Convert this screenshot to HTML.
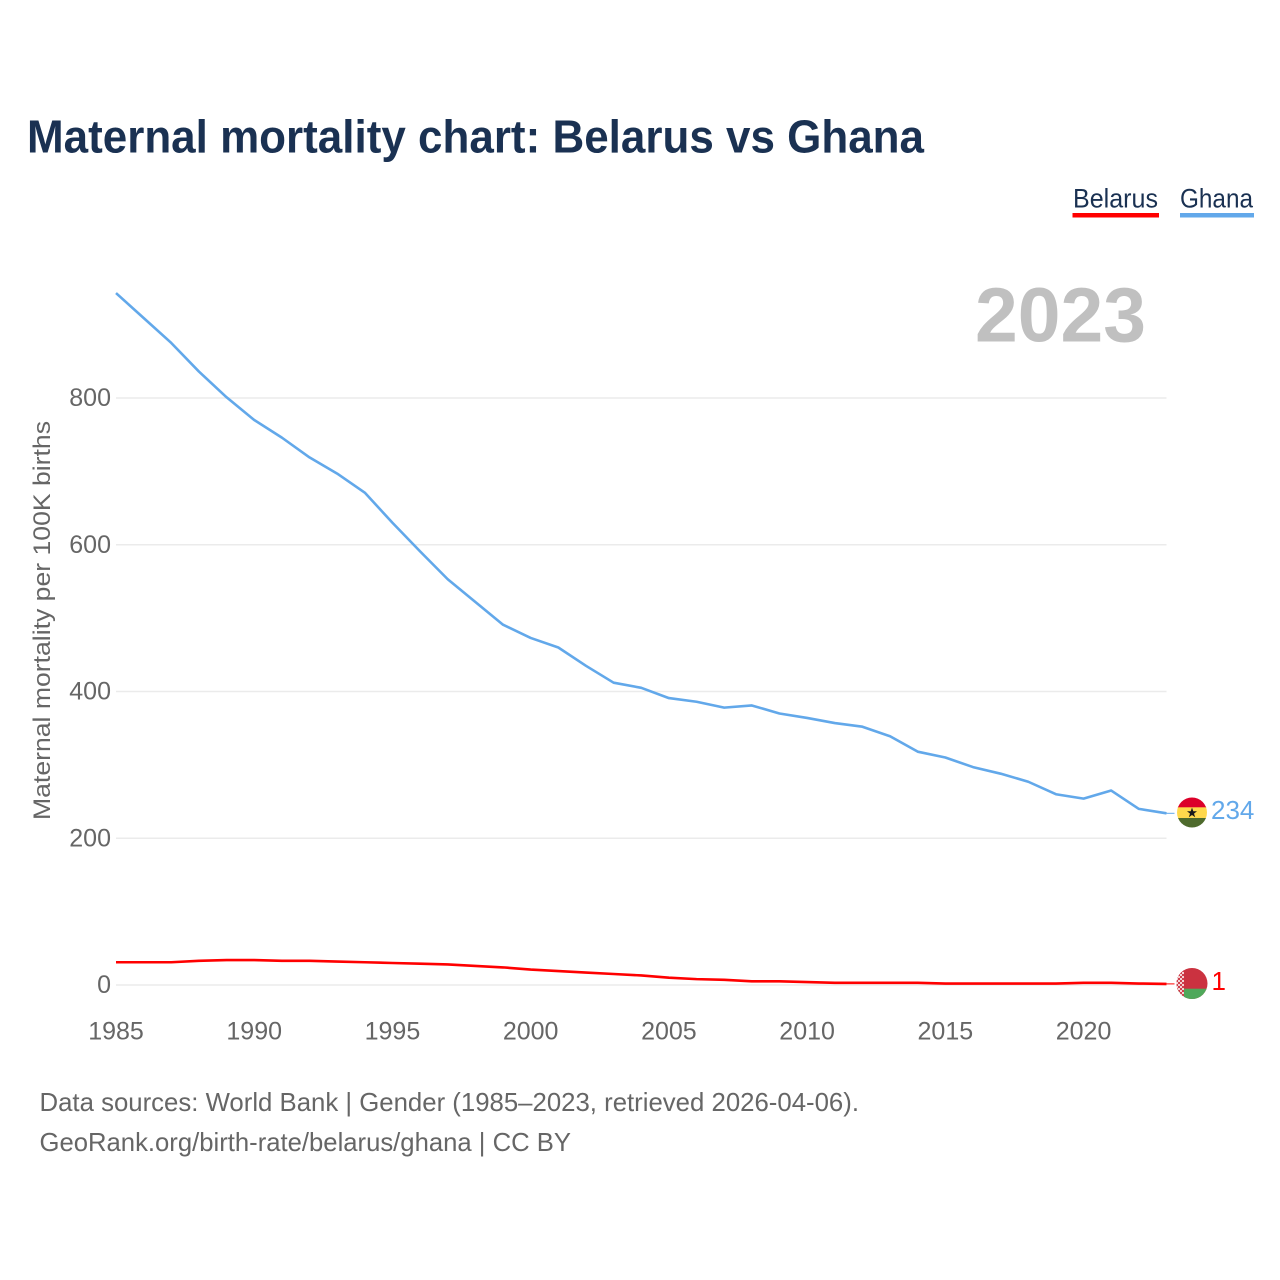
<!DOCTYPE html>
<html lang="en">
<head>
<meta charset="utf-8">
<title>Maternal mortality chart: Belarus vs Ghana</title>
<style>
html,body{margin:0;padding:0;background:#fff;}
svg{display:block;font-family:"Liberation Sans",sans-serif;}
</style>
</head>
<body>
<svg id="chart" width="1280" height="1280" viewBox="0 0 1280 1280" xmlns="http://www.w3.org/2000/svg">
  <defs>
    <clipPath id="clip-ghana"><circle cx="1192" cy="812.5" r="15"/></clipPath>
    <clipPath id="clip-belarus"><circle cx="1192" cy="983.5" r="15.500"/></clipPath>
    <pattern id="belarus-ornament" width="4" height="4" patternUnits="userSpaceOnUse">
      <rect width="4" height="4" fill="#f3d3d5"/>
      <rect width="2" height="2" fill="#cf3f4c"/>
      <rect x="2" y="2" width="2" height="2" fill="#cf3f4c"/>
    </pattern>
  </defs>
  <rect width="1280" height="1280" fill="#fff"/>

  <text x="27" y="152.500" font-size="46" font-weight="700" fill="#1a3152" textLength="897" lengthAdjust="spacingAndGlyphs">Maternal mortality chart: Belarus vs Ghana</text>

  <g>
    <g>
      <text x="1073" y="207.500" font-size="26.500" fill="#1a3152" textLength="85" lengthAdjust="spacingAndGlyphs">Belarus</text>
      <rect x="1072.500" y="213" width="86.500" height="4.500" fill="#ff0000"/>
    </g>
    <g>
      <text x="1180" y="207.500" font-size="26.500" fill="#1a3152" textLength="73" lengthAdjust="spacingAndGlyphs">Ghana</text>
      <rect x="1180" y="213" width="74" height="4.500" fill="#62a8ea"/>
    </g>
  </g>

  <text x="975" y="341.500" font-size="77" font-weight="700" fill="#c0c0c0" textLength="171" lengthAdjust="spacingAndGlyphs">2023</text>

  <g id="grid"></g>
  <g id="y-ticks"></g>
  <g id="x-ticks"></g>

  <text transform="translate(50 820) rotate(-90)" x="0" y="0" font-size="24.500" fill="#666666" textLength="399" lengthAdjust="spacingAndGlyphs">Maternal mortality per 100K births</text>

  <g id="series"></g>

  <g clip-path="url(#clip-ghana)">
    <rect x="1177" y="797" width="30" height="11" fill="#dc002a"/>
    <rect x="1177" y="807.300" width="30" height="11" fill="#ffd84c"/>
    <rect x="1177" y="818" width="30" height="10" fill="#4e6a2c"/>
    <polygon points="1192,807.600 1193.300,811.300 1197,811.300 1194,813.600 1195.200,817.300 1192,815 1188.800,817.300 1190,813.600 1187,811.300 1190.700,811.300" fill="#1a1a1a"/>
  </g>
  <g clip-path="url(#clip-belarus)">
    <rect x="1176" y="968" width="32" height="32" fill="#cb3240"/>
    <rect x="1176" y="988.700" width="32" height="11" fill="#4fa85a"/>
    <rect x="1176" y="968" width="8" height="32" fill="url(#belarus-ornament)"/>
  </g>

  <text id="value-ghana" x="1211" y="819" font-size="26" fill="#62a8ea"></text>
  <text id="value-belarus" x="1211.500" y="990" font-size="26" fill="#ff0000"></text>

  <g>
    <text x="39.500" y="1111" font-size="26" fill="#666666" textLength="819.500" lengthAdjust="spacingAndGlyphs">Data sources: World Bank | Gender (1985–2023, retrieved 2026-04-06).</text>
    <text x="39.500" y="1151" font-size="26" fill="#666666" textLength="531.500" lengthAdjust="spacingAndGlyphs">GeoRank.org/birth-rate/belarus/ghana | CC BY</text>
  </g>
</svg>
<script>
const years = [1985,1986,1987,1988,1989,1990,1991,1992,1993,1994,1995,1996,1997,1998,1999,2000,2001,2002,2003,2004,2005,2006,2007,2008,2009,2010,2011,2012,2013,2014,2015,2016,2017,2018,2019,2020,2021,2022,2023];
const ghanaValues = [943,909,875,836,801,770,746,719,697,671,630,591,553,522,491,473,460,435,412,405,391,386,378,381,370,364,357,352,339,318,310,297,288,277,260,254,265,240,234];
const belarusValues = [31,31,31,33,34,34,33,33,32,31,30,29,28,26,24,21,19,17,15,13,10,8,7,5,5,4,3,3,3,3,2,2,2,2,2,3,3,2,1.5];
const yTickValues = [0,200,400,600,800];
const xTickValues = [1985,1990,1995,2000,2005,2010,2015,2020];
const ghanaLabel = "234";
const belarusLabel = "1";

const NS = 'http://www.w3.org/2000/svg';
function xScale(year) { return 116 + (year - 1985) * (1166.500 - 116) / (2023 - 1985); }
function yScale(value) { return 985 - value * (985 - 398) / 800; }

const grid = document.getElementById('grid');
const yTicksGroup = document.getElementById('y-ticks');
yTickValues.forEach(function (v) {
  const line = document.createElementNS(NS, 'line');
  
  
  line.setAttribute('x1', xScale(1985));
  line.setAttribute('x2', xScale(2023));
  line.setAttribute('y1', yScale(v));
  line.setAttribute('y2', yScale(v));
  line.setAttribute('stroke', '#ebebeb');
  line.setAttribute('stroke-width', '1.5');
  grid.appendChild(line);

  const label = document.createElementNS(NS, 'text');
  
  
  label.setAttribute('x', 111);
  label.setAttribute('y', yScale(v) + 8);
  label.setAttribute('text-anchor', 'end');
  label.setAttribute('font-size', '25');
  label.setAttribute('fill', '#666666');
  label.textContent = v;
  yTicksGroup.appendChild(label);
});

const xTicksGroup = document.getElementById('x-ticks');
xTickValues.forEach(function (y) {
  const label = document.createElementNS(NS, 'text');
  
  
  label.setAttribute('x', xScale(y));
  label.setAttribute('y', 1039.500);
  label.setAttribute('text-anchor', 'middle');
  label.setAttribute('font-size', '25');
  label.setAttribute('fill', '#666666');
  label.textContent = y;
  xTicksGroup.appendChild(label);
});

function linePoints(values) {
  return values.map(function (v, i) {
    return xScale(years[i]).toFixed(2) + ',' + yScale(v).toFixed(2);
  }).join(' ');
}

const seriesGroup = document.getElementById('series');

const ghanaLine = document.createElementNS(NS, 'polyline');


ghanaLine.setAttribute('points', linePoints(ghanaValues));
ghanaLine.setAttribute('fill', 'none');
ghanaLine.setAttribute('stroke', '#62a8ea');
ghanaLine.setAttribute('stroke-width', '2.600');
ghanaLine.setAttribute('stroke-linejoin', 'round');
seriesGroup.appendChild(ghanaLine);

const belarusLine = document.createElementNS(NS, 'polyline');


belarusLine.setAttribute('points', linePoints(belarusValues));
belarusLine.setAttribute('fill', 'none');
belarusLine.setAttribute('stroke', '#ff0000');
belarusLine.setAttribute('stroke-width', '2.600');
belarusLine.setAttribute('stroke-linejoin', 'round');
seriesGroup.appendChild(belarusLine);

const ghanaLeader = document.createElementNS(NS, 'line');


ghanaLeader.setAttribute('x1', xScale(2023));
ghanaLeader.setAttribute('x2', xScale(2023) + 8);
ghanaLeader.setAttribute('y1', yScale(ghanaValues[ghanaValues.length - 1]));
ghanaLeader.setAttribute('y2', yScale(ghanaValues[ghanaValues.length - 1]));
ghanaLeader.setAttribute('stroke', '#62a8ea');
ghanaLeader.setAttribute('stroke-width', '1');
seriesGroup.appendChild(ghanaLeader);

const belarusLeader = document.createElementNS(NS, 'line');


belarusLeader.setAttribute('x1', xScale(2023));
belarusLeader.setAttribute('x2', xScale(2023) + 8);
belarusLeader.setAttribute('y1', yScale(belarusValues[belarusValues.length - 1]));
belarusLeader.setAttribute('y2', yScale(belarusValues[belarusValues.length - 1]));
belarusLeader.setAttribute('stroke', '#ff0000');
belarusLeader.setAttribute('stroke-width', '1');
seriesGroup.appendChild(belarusLeader);

document.getElementById('value-ghana').textContent = ghanaLabel;
document.getElementById('value-belarus').textContent = belarusLabel;
</script>
</body>
</html>
